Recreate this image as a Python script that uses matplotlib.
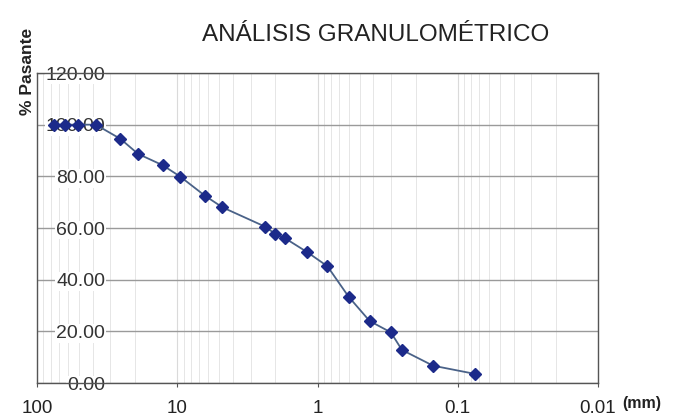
import matplotlib
matplotlib.use("Agg")
import matplotlib.pyplot as plt
from matplotlib.ticker import FixedLocator, FixedFormatter, LogLocator, NullFormatter

# Data (sieve opening in mm, % passing)
sizes_mm = [76.2, 63.5, 50.8, 38.1, 25.4, 19.05, 12.7, 9.525, 6.35, 4.76,
            2.36, 2.0, 1.7, 1.18, 0.85, 0.6, 0.425, 0.3, 0.25, 0.15, 0.075]
pct_pass = [100.0, 100.0, 100.0, 100.0, 94.5, 88.7, 84.3, 79.9, 72.5, 68.0,
            60.5, 57.7, 56.0, 50.6, 45.2, 33.4, 24.0, 19.6, 12.8, 6.7, 3.5]

x_ticks = [100, 10, 1, 0.1, 0.01]
x_tick_labels = ["100", "10", "1", "0.1", "0.01"]
y_ticks = [0, 20, 40, 60, 80, 100, 120]
y_tick_labels = ["0.00", "20.00", "40.00", "60.00", "80.00", "100.00", "120.00"]

title = "ANÁLISIS GRANULOMÉTRICO"
y_label = "% Pasante"
x_unit = "(mm)"

plt.rcParams['font.family'] = ['Liberation Sans', 'DejaVu Sans']

fig = plt.figure(figsize=(6.86, 4.19), dpi=100)
ax = fig.add_axes([37/686, 1-383/419, (598-37)/686, (383-73)/419])

ax.plot(sizes_mm, pct_pass, color='#4a6288', linewidth=1.3,
        marker='D', markersize=6, markerfacecolor='#1c2a8a',
        markeredgecolor='#1c2a8a', zorder=3)

ax.set_xscale('log')
ax.set_xlim(100, 0.01)
ax.set_ylim(0, 120)

ax.xaxis.set_major_locator(FixedLocator(x_ticks))
ax.xaxis.set_major_formatter(FixedFormatter(x_tick_labels))
ax.xaxis.set_minor_locator(LogLocator(base=10, subs=[2, 3, 4, 5, 6, 7, 8, 9], numticks=20))
ax.xaxis.set_minor_formatter(NullFormatter())

ax.yaxis.set_major_locator(FixedLocator(y_ticks))
ax.yaxis.set_major_formatter(FixedFormatter(y_tick_labels))

ax.grid(True, which='major', axis='y', color='#9a9a9a', linewidth=1.0)
ax.grid(True, which='major', axis='x', color='#dadada', linewidth=0.8)
ax.grid(True, which='minor', axis='x', color='#e6e6e6', linewidth=0.7)
ax.set_axisbelow(True)

ax.tick_params(axis='x', which='major', length=3, pad=9, labelsize=13.5,
               color='#555555', labelcolor='#222222')
ax.tick_params(axis='x', which='minor', length=0)
ax.tick_params(axis='y', which='major', length=0, pad=-49, labelsize=14,
               labelcolor='#333333')
for lab in ax.get_yticklabels():
    lab.set_bbox(dict(facecolor='white', edgecolor='none', pad=0.5))

for s in ax.spines.values():
    s.set_color('#555555')
    s.set_linewidth(1.0)

fig.text(376/686, 1-35/419, title, ha='center', va='center', fontsize=17.5, color='#222222')
fig.text(27/686, 1-71/419, y_label, ha='center', va='center', rotation=90,
         fontsize=12.5, fontweight='bold', color='#222222')
fig.text(642/686, 1-403/419, x_unit, ha='center', va='center',
         fontsize=11.5, fontweight='bold', color='#222222')

fig.savefig('out.png', dpi=100)
